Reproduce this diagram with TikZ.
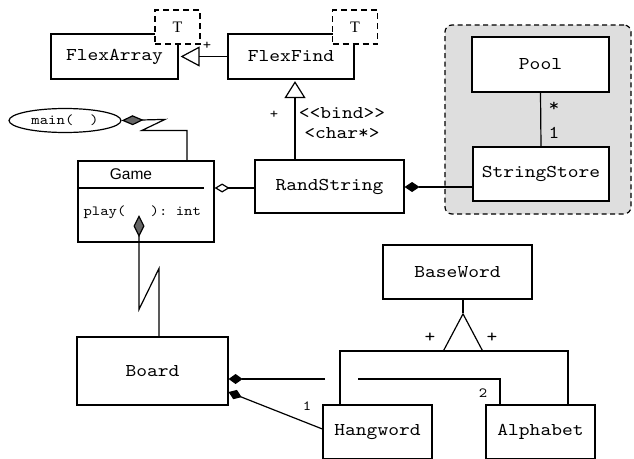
\documentclass[tikz,border=0pt]{standalone}
\usepackage{fontspec}
\setmainfont{Liberation Serif}
\setsansfont{Liberation Sans}
\setmonofont[Extension=.otf, FakeStretch=1.14]{lmmono10-regular}
\usetikzlibrary{arrows.meta,shapes.geometric}
\definecolor{dgray}{HTML}{666666}
\definecolor{pkgfill}{HTML}{DEDEDE}
\newcommand{\clsf}{\ttfamily\fontsize{18}{20}\selectfont}
\newcommand{\smf}{\ttfamily\fontsize{14}{16}\selectfont}
\begin{document}
\begin{tikzpicture}[x=1pt,y=-1pt, line width=1.2pt,
  cls/.style={draw, fill=white, inner sep=0pt, font=\clsf},
  tbox/.style={draw, dash pattern=on 6pt off 4pt, fill=white, inner sep=0pt,
     minimum width=45pt, minimum height=34pt, font=\rmfamily\fontsize{16}{18}\selectfont},
  lbl/.style={inner sep=0pt, font=\smf},
  lblbig/.style={inner sep=0pt, font=\clsf},
  inhsmall/.style={-{Triangle[open,length=19pt,width=20pt]}},
  agghollow/.style={-{Diamond[open,length=15pt,width=9pt]}},
  compblack/.style={-{Diamond[length=14pt,width=10pt]}},
  compgray/.style={-{Diamond[fill=dgray,length=22pt,width=11pt]}}]
\useasboundingbox (0,0) rectangle (634,458);
\clip (0,0) rectangle (634,458);
\fill[white] (0,0) rectangle (634,458);

% package container
\node[draw, dash pattern=on 5pt off 3.5pt, fill=pkgfill, rounded corners=7pt,
      minimum width=186pt, minimum height=189pt, inner sep=0pt] (pkg) at (538,119.5) {};

% classes
\node[cls, minimum width=127pt, minimum height=45pt] (fa) at (114.5,56.5) {FlexArray};
\node[tbox] (faT) at (177.5,27) {T};
\node[cls, minimum width=126pt, minimum height=45pt] (ff) at (291,56.5) {FlexFind};
\node[tbox] (ffT) at (355,27) {T};
\node[ellipse, draw, fill=white, inner sep=0pt, minimum width=112pt, minimum height=24pt, font=\smf] (main) at (65,120.5) {main(\phantom{00})};
\node[cls, minimum width=136pt, minimum height=81pt] (game) at (146,201.5) {};
\node[inner sep=0pt, font=\sffamily\fontsize{15.5}{17}\selectfont] (gname) at (131,174) {Game};
\node[lbl, anchor=west] (gplay) at (83,212) {play(\phantom{000}): int};
\node[cls, minimum width=149pt, minimum height=53pt] (rs) at (329.5,186.5) {RandString};
\node[cls, minimum width=137pt, minimum height=55pt] (pool) at (540.5,64.5) {Pool};
\node[cls, minimum width=136pt, minimum height=54pt] (ss) at (541,174) {StringStore};
\node[cls, minimum width=151pt, minimum height=68pt] (board) at (152.5,371) {Board};
\node[cls, minimum width=149pt, minimum height=54pt] (bw) at (457.5,272) {BaseWord};
\node[cls, minimum width=109pt, minimum height=54pt] (hw) at (377.5,432) {Hangword};
\node[cls, minimum width=109pt, minimum height=54pt] (al) at (540.5,432) {Alphabet};

% helper coordinates
\coordinate (sepy) at (0,188);
\coordinate (y187) at (0,187);
\coordinate (x295) at (295,0);
\coordinate (x187) at (187,0);
\coordinate (x159) at (159,0);
\coordinate (playd) at (139,215);
\coordinate (hopL) at (325,379);
\coordinate (hopR) at (358,379);
\coordinate (x500) at (500,0);
\coordinate (y392) at (0,392);
\coordinate (y429) at (0,429);
\coordinate (hub) at (463,351);
\coordinate (x340) at (340,0);
\coordinate (x568) at (568,0);

% Game compartment separator
\draw (game.west |- sepy) -- ++(127,0);

% FlexFind -> FlexArray
\draw[inhsmall, shorten >=2pt] (ff.west) -- (fa.east);
\node[lbl] (plusA) at (207,46) {+};

% RandString -> FlexFind
\draw[-{Triangle[open,length=17pt,width=21pt]}, shorten >=1.5pt] (rs.north -| x295) -- (ff.south -| x295);
\node[lbl] (plusB) at (274,115) {+};
\node[lblbig] (bind) at (342,113) {<<bind>>};
\node[lblbig] (charp) at (342,133) {<char*>};

% Game <>- RandString
\draw[agghollow] (rs.west |- sepy) -- (game.east |- sepy);

% main <#>- Game
\draw[-{Diamond[fill=dgray,length=22pt,width=10pt]}] (game.north -| x187) -- ++(0,-30) -- ++(-45,0) -- ++(23,-11) -- (main.east);

% Game <#>- Board
\draw[compgray] (board.north -| x159) -- ++(0,-68) -- ++(-20,41) -- (playd);

% RandString <*>- StringStore
\draw[-{Diamond[length=15pt,width=10pt]}] (ss.west |- y187) -- (rs.east |- y187);

% Pool - StringStore
\draw (pool.south) -- (ss.north);
\node[lblbig] (star) at (554,107) {*};
\node[lblbig] (one) at (554,133) {1};

% Board <*>- Alphabet (with hop)
\draw[compblack] (hopL) -- (board.east |- hopL);
\draw (hopR) -| (al.north -| x500);
\node[lbl] (two) at (483,393) {2};

% Board <*>- Hangword
\draw[compblack] (hw.west |- y429) -- (board.east |- y392);
\node[lbl] (oneb) at (307,406) {1};

% BaseWord generalisation
\draw (hw.north -| x340) |- (hub) -| (al.north -| x568);
\draw[-{Triangle[open,length=39pt,width=41pt]}, shorten >=13pt] (hub) -- (bw.south -| hub);
\draw (bw.south -| hub) -- ++(0,13);
\node[lblbig] (plusC) at (430,338) {+};
\node[lblbig] (plusD) at (492,338) {+};
\end{tikzpicture}
\end{document}
